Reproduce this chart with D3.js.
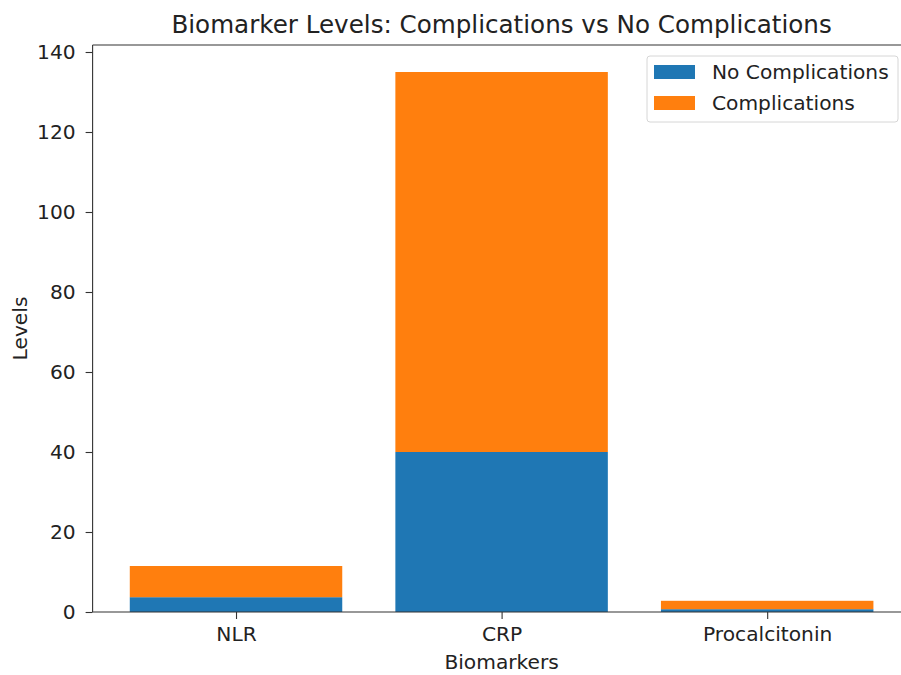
<!DOCTYPE html>
<html>
<head>
<meta charset="utf-8">
<script src="https://cdn.jsdelivr.net/npm/d3@7"></script>
<style>
  body { margin: 0; background: #fff; }
  svg text { font-family: "DejaVu Sans", sans-serif; }
</style>
</head>
<body>
<div id="main"></div>
<script>
var biomarkers = ["NLR", "CRP", "Procalcitonin"];
var noComplications = [3.7, 40, 0.7];
var complications = [7.8, 95, 2.1];
var yTicks = [0, 20, 40, 60, 80, 100, 120, 140];

var outerWidth = 901, outerHeight = 675;
var marginLeft = 92.6, marginTop = 45, marginBottom = 63;
var axesRight = 910.6;

var innerHeight = outerHeight - marginTop - marginBottom;

var svg = d3.select("#main").append("svg")
    .attr("width", outerWidth)
    .attr("height", outerHeight);

var totals = biomarkers.map((d, i) => noComplications[i] + complications[i]);
var yMax = d3.max(totals) * 1.05;

var xScale = d3.scaleLinear().domain([-0.54, biomarkers.length - 1 + 0.54]).range([marginLeft, axesRight]);
var yScale = d3.scaleLinear().domain([0, yMax]).range([marginTop + innerHeight, marginTop]);
var barW = 0.8;

var colors = { no: "#1f77b4", yes: "#ff7f0e" };

// bars
svg.append("g").selectAll("rect")
    .data(biomarkers)
    .enter().append("rect")
    .attr("x", (d, i) => xScale(i - barW / 2))
    .attr("width", xScale(barW) - xScale(0))
    .attr("y", (d, i) => yScale(noComplications[i]))
    .attr("height", (d, i) => yScale(0) - yScale(noComplications[i]))
    .attr("fill", colors.no);

svg.append("g").selectAll("rect")
    .data(biomarkers)
    .enter().append("rect")
    .attr("x", (d, i) => xScale(i - barW / 2))
    .attr("width", xScale(barW) - xScale(0))
    .attr("y", (d, i) => yScale(noComplications[i] + complications[i]))
    .attr("height", (d, i) => yScale(noComplications[i]) - yScale(noComplications[i] + complications[i]))
    .attr("fill", colors.yes);

// axes
var xAxis = d3.axisBottom(xScale).tickValues(biomarkers.map((d, i) => i))
    .tickFormat(i => biomarkers[i]).tickSize(7).tickPadding(8);
var yAxis = d3.axisLeft(yScale).tickValues(yTicks).tickSize(7).tickPadding(10);

var xAxisG = svg.append("g")
    .attr("transform", "translate(0," + yScale(0) + ")")
    .call(xAxis);
var yAxisG = svg.append("g")
    .attr("transform", "translate(" + marginLeft + ",0)")
    .call(yAxis);

[xAxisG, yAxisG].forEach(g => {
    g.attr("font-family", null).attr("font-size", null);
    g.selectAll("text").style("font-size", "20.2px").attr("fill", "#222");
    g.selectAll("line").attr("stroke", "#333").attr("stroke-width", 1.1);
    g.select(".domain").remove();
});

// spines
svg.append("line").attr("x1", marginLeft).attr("x2", marginLeft)
    .attr("y1", marginTop).attr("y2", yScale(0)).attr("stroke", "#333").attr("stroke-width", 1.1);
svg.append("line").attr("x1", marginLeft).attr("x2", axesRight)
    .attr("y1", yScale(0)).attr("y2", yScale(0)).attr("stroke", "#333").attr("stroke-width", 1.1);
svg.append("line").attr("x1", marginLeft).attr("x2", axesRight)
    .attr("y1", marginTop).attr("y2", marginTop).attr("stroke", "#333").attr("stroke-width", 1.1);

// title and labels
svg.append("text")
    .attr("x", (marginLeft + axesRight) / 2)
    .attr("y", 33)
    .attr("text-anchor", "middle")
    .style("font-size", "24.6px")
    .attr("fill", "#222")
    .text("Biomarker Levels: Complications vs No Complications");

svg.append("text")
    .attr("x", (marginLeft + axesRight) / 2)
    .attr("y", 669)
    .attr("text-anchor", "middle")
    .style("font-size", "20.2px")
    .attr("fill", "#222")
    .text("Biomarkers");

svg.append("text")
    .attr("transform", "translate(27," + (marginTop + innerHeight / 2) + ") rotate(-90)")
    .attr("text-anchor", "middle")
    .style("font-size", "20.2px")
    .attr("fill", "#222")
    .text("Levels");

// legend
var legend = svg.append("g").attr("transform", "translate(647,56)");
legend.append("rect")
    .attr("width", 251).attr("height", 66).attr("rx", 3)
    .attr("fill", "#fff").attr("fill-opacity", 0.8)
    .attr("stroke", "#d6d6d6");
var legendItems = [["No Complications", colors.no], ["Complications", colors.yes]];
legend.selectAll(".item")
    .data(legendItems)
    .enter().append("rect")
    .attr("x", 7).attr("y", (d, i) => 9 + i * 31)
    .attr("width", 41).attr("height", 14)
    .attr("fill", d => d[1]);
legend.selectAll(".label")
    .data(legendItems)
    .enter().append("text")
    .attr("x", 65).attr("y", (d, i) => 23 + i * 31)
    .style("font-size", "20.2px")
    .attr("fill", "#222")
    .text(d => d[0]);
</script>
</body>
</html>
